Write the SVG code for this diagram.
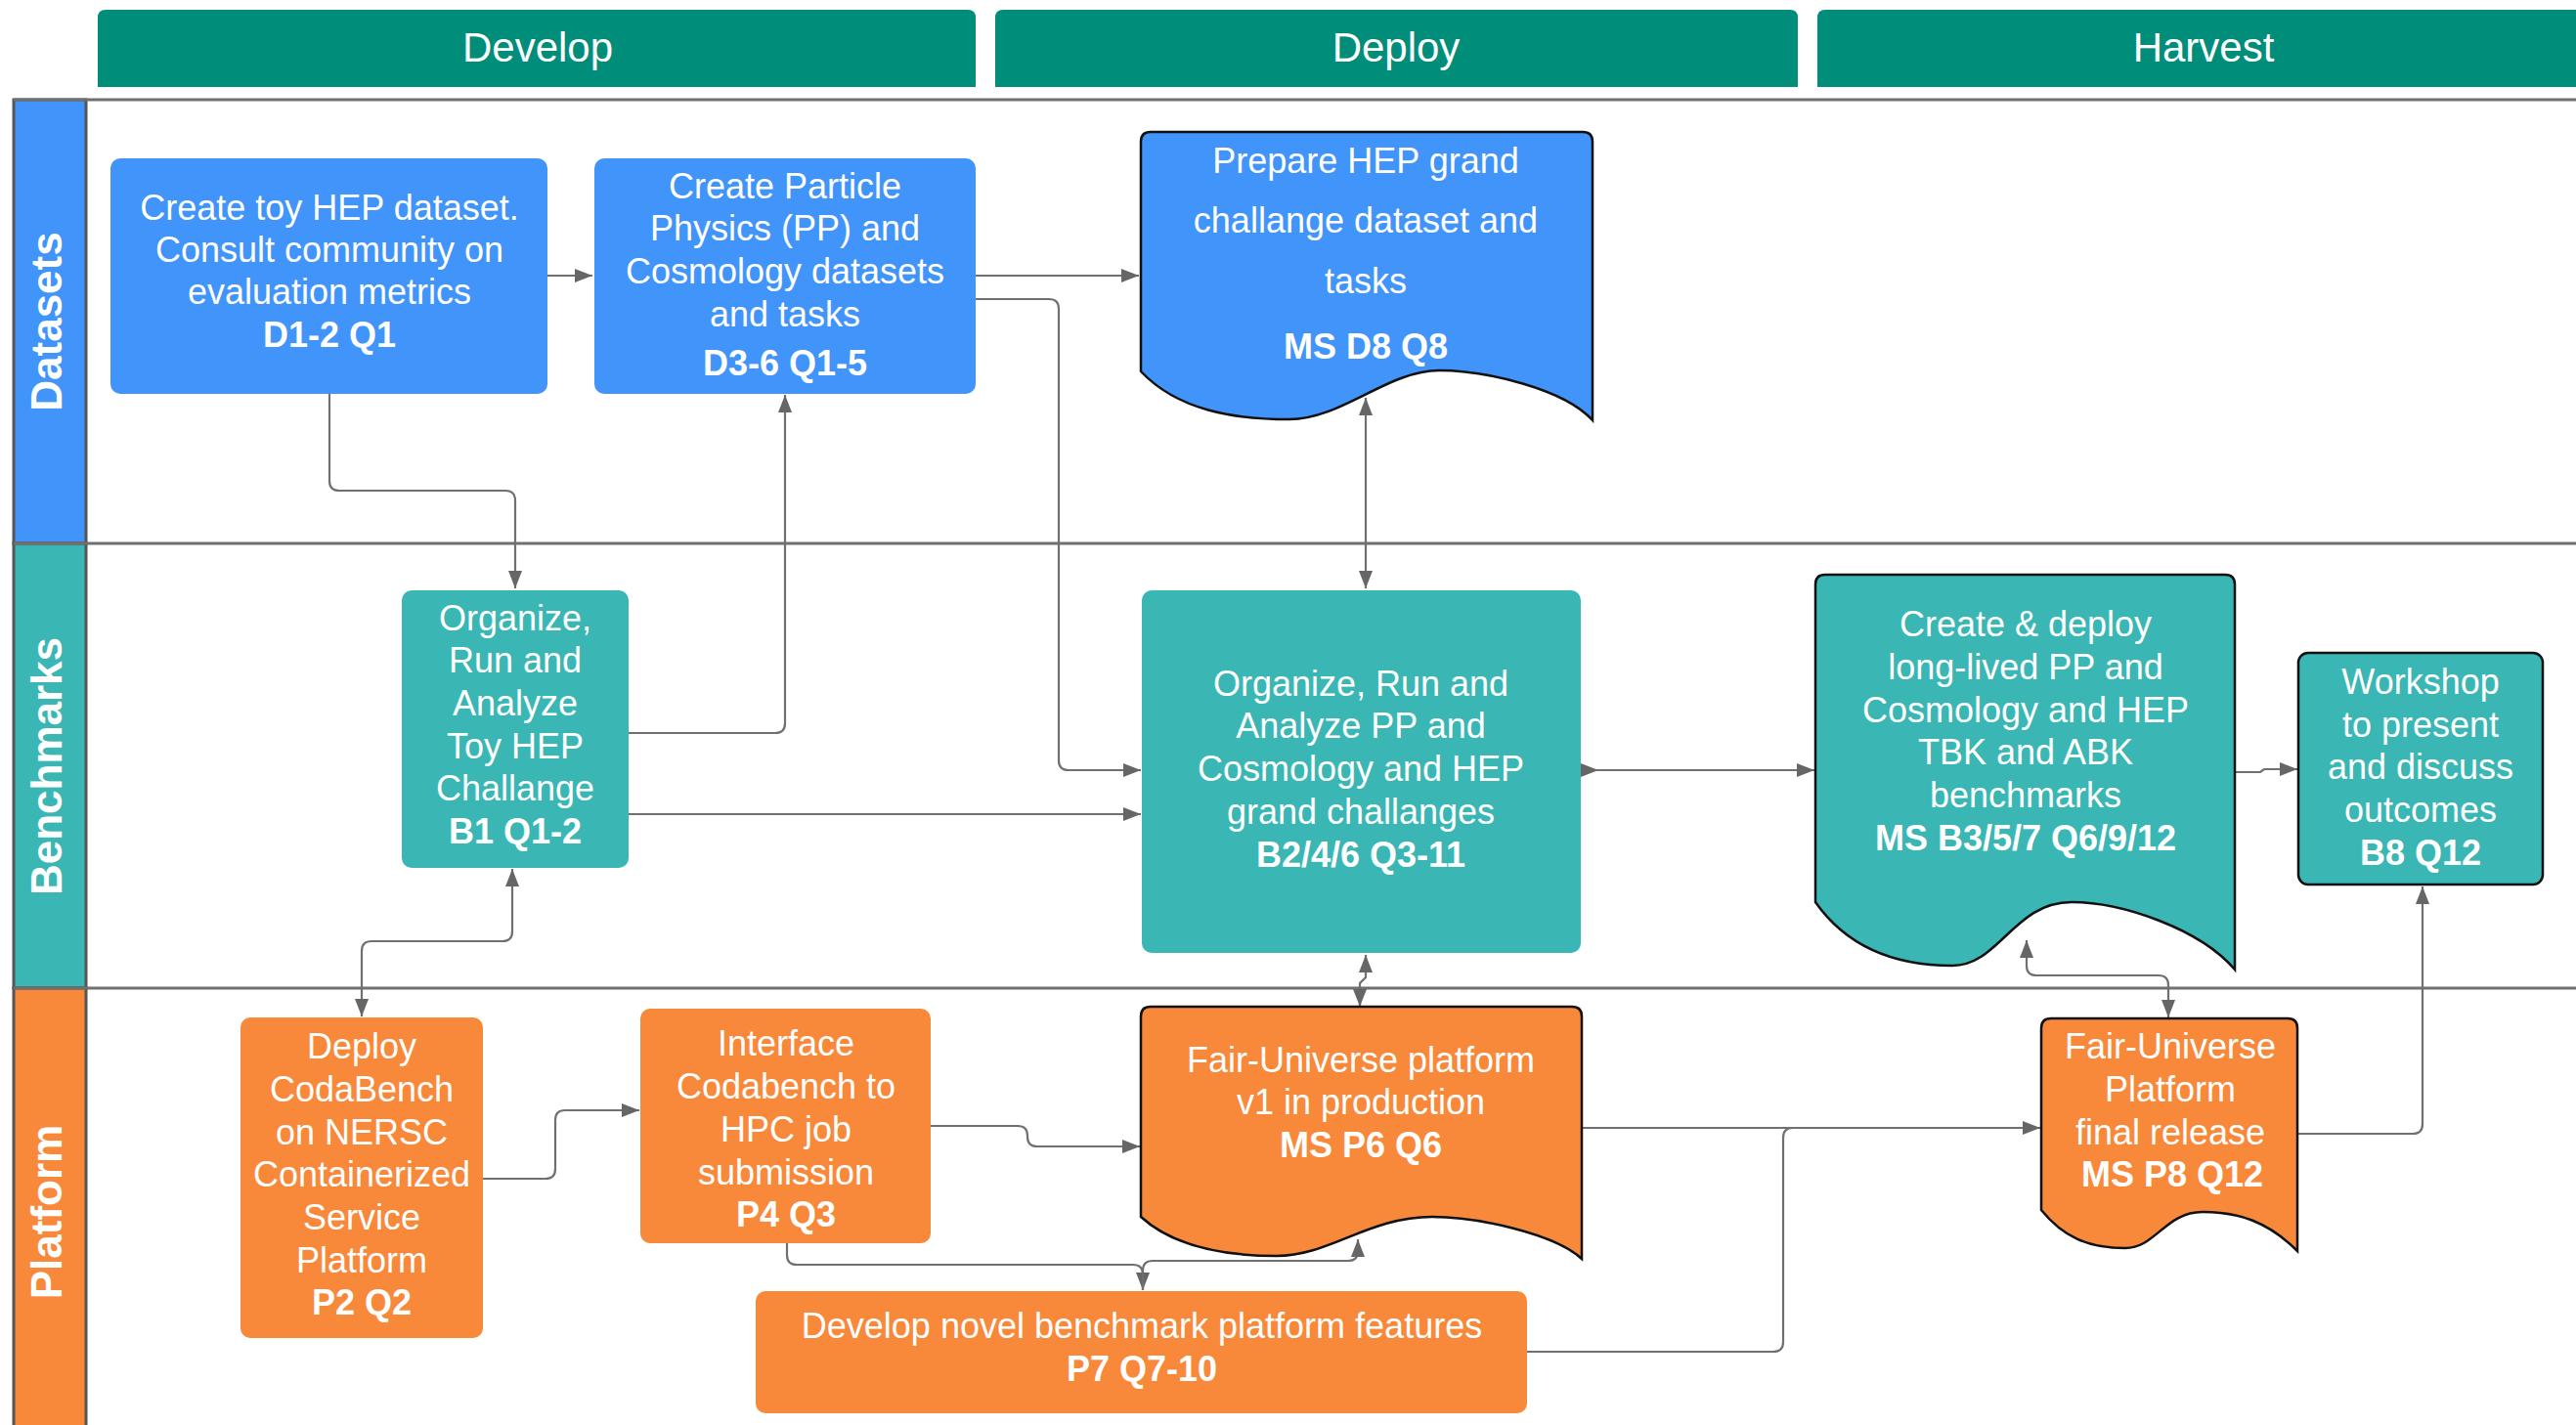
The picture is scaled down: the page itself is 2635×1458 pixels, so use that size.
<svg xmlns="http://www.w3.org/2000/svg" width="2635" height="1458" viewBox="0 0 2635 1458">
<defs>
<style>
.hdr{fill:#008d7a}
.hdrt{font-family:"Liberation Sans",Arial,sans-serif;font-size:42px;fill:#ffffff;text-anchor:middle}
.lane{stroke:#707070;stroke-width:3;fill:none}
.lbl{stroke:#555555;stroke-width:3}
.lblt{font-family:"Liberation Sans",Arial,sans-serif;font-size:44px;font-weight:bold;fill:#ffffff;text-anchor:middle}
.blue{fill:#4194f9}
.teal{fill:#3ab6b4}
.orng{fill:#f8883a}
.doc{stroke:#111111;stroke-width:2.5}
.t{font-family:"Liberation Sans",Arial,sans-serif;font-size:36px;fill:#ffffff;text-anchor:middle}
.b{font-weight:bold}
.c{stroke:#707070;stroke-width:2.2;fill:none}
</style>
<marker id="arr" markerUnits="userSpaceOnUse" markerWidth="18" markerHeight="14" refX="18" refY="7" orient="auto-start-reverse"><path d="M0,0 L18,7 L0,14 z" fill="#666666"/></marker>
<marker id="arrS" markerUnits="userSpaceOnUse" markerWidth="18" markerHeight="14" refX="0" refY="7" orient="auto"><path d="M0,0 L18,7 L0,14 z" fill="#666666"/></marker>
</defs>
<rect x="0" y="0" width="2635" height="1458" fill="#ffffff"/>

<g id="headers">
<path class="hdr" d="M100,89 V18 Q100,10 108,10 H990 Q998,10 998,18 V89 Z"/>
<text class="hdrt" x="550" y="63">Develop</text>
<path class="hdr" d="M1018,89 V18 Q1018,10 1026,10 H1831 Q1839,10 1839,18 V89 Z"/>
<text class="hdrt" x="1428" y="63">Deploy</text>
<path class="hdr" d="M1859,89 V18 Q1859,10 1867,10 H2635 V89 Z"/>
<text class="hdrt" x="2254" y="63">Harvest</text>
</g>

<g id="lanes">
<rect class="lbl" x="14" y="102" width="74" height="454" fill="#4194f9"/>
<rect class="lbl" x="14" y="556" width="74" height="455" fill="#3ab6b4"/>
<rect class="lbl" x="14" y="1011" width="74" height="460" fill="#f8883a"/>
<line class="lane" x1="14" y1="102" x2="2635" y2="102"/>
<line class="lane" x1="14" y1="556" x2="2635" y2="556"/>
<line class="lane" x1="14" y1="1011" x2="2635" y2="1011"/>
<text class="lblt" transform="translate(63,329) rotate(-90)" x="0" y="0">Datasets</text>
<text class="lblt" transform="translate(63,784) rotate(-90)" x="0" y="0">Benchmarks</text>
<text class="lblt" transform="translate(63,1240) rotate(-90)" x="0" y="0">Platform</text>
</g>

<g id="connectors">
<path class="c" d="M560,282 H606" marker-end="url(#arr)"/>
<path class="c" d="M998,282 H1165" marker-end="url(#arr)"/>
<path class="c" d="M337,403 V492 Q337,502 347,502 H517 Q527,502 527,512 V602" marker-end="url(#arr)"/>
<path class="c" d="M643,750 H793 Q803,750 803,740 V404" marker-end="url(#arr)"/>
<path class="c" d="M998,306 H1073 Q1083,306 1083,316 V778 Q1083,788 1093,788 H1167" marker-end="url(#arr)"/>
<path class="c" d="M643,833 H1167" marker-end="url(#arr)"/>
<path class="c" d="M1397,407 V602" marker-start="url(#arr)" marker-end="url(#arr)"/>
<path class="c" d="M1617,788 H1856" marker-start="url(#arrS)" marker-end="url(#arr)"/>
<path class="c" d="M2286,790 H2312 L2316,787 H2350" marker-end="url(#arr)"/>
<path class="c" d="M1397,977 V1000 L1391,1006 V1030" marker-start="url(#arr)" marker-end="url(#arr)"/>
<path class="c" d="M524,889 V953 Q524,963 514,963 H380 Q370,963 370,973 V1040" marker-start="url(#arr)" marker-end="url(#arr)"/>
<path class="c" d="M2073,962 V988 Q2073,998 2083,998 H2208 Q2218,998 2218,1008 V1041" marker-start="url(#arr)" marker-end="url(#arr)"/>
<path class="c" d="M494,1206 H558 Q568,1206 568,1196 V1146 Q568,1136 578,1136 H654" marker-end="url(#arr)"/>
<path class="c" d="M952,1152 H1041 Q1051,1152 1051,1162 V1163 Q1051,1173 1061,1173 H1166" marker-end="url(#arr)"/>
<path class="c" d="M805,1272 V1284 Q805,1294 815,1294 H1159 Q1169,1294 1169,1304 V1320" marker-end="url(#arr)"/>
<path class="c" d="M1169,1320 V1300 Q1169,1290 1179,1290 H1379 Q1389,1290 1389,1280 V1268" marker-end="url(#arr)"/>
<path class="c" d="M1618,1154 H2087" marker-end="url(#arr)"/>
<path class="c" d="M1562,1383 H1814 Q1824,1383 1824,1373 V1164 Q1824,1154 1834,1154 H1850"/>
<path class="c" d="M2350,1160 H2468 Q2478,1160 2478,1150 V907" marker-end="url(#arr)"/>
</g>

<g id="D1">
<rect class="blue" x="113" y="162" width="447" height="241" rx="10"/>
<text class="t" x="337" y="225">Create toy HEP dataset.</text>
<text class="t" x="337" y="268">Consult community on</text>
<text class="t" x="337" y="311">evaluation metrics</text>
<text class="t b" x="337" y="355">D1-2 Q1</text>
</g>

<g id="D3">
<rect class="blue" x="608" y="162" width="390" height="241" rx="10"/>
<text class="t" x="803" y="203">Create Particle</text>
<text class="t" x="803" y="246">Physics (PP) and</text>
<text class="t" x="803" y="290">Cosmology datasets</text>
<text class="t" x="803" y="334">and tasks</text>
<text class="t b" x="803" y="384">D3-6 Q1-5</text>
</g>

<g id="D8">
<path class="blue doc" d="M1167,380 V145 Q1167,135 1177,135 H1619 Q1629,135 1629,145 V430 C1600,398 1520,379 1472,379 C1420,379 1372,429 1319,429 C1262,429 1205,420 1167,380 Z"/>
<text class="t" x="1397" y="177">Prepare HEP grand</text>
<text class="t" x="1397" y="238">challange dataset and</text>
<text class="t" x="1397" y="300">tasks</text>
<text class="t b" x="1397" y="367">MS D8 Q8</text>
</g>

<g id="B1">
<rect class="teal" x="411" y="604" width="232" height="284" rx="10"/>
<text class="t" x="527" y="645">Organize,</text>
<text class="t" x="527" y="688">Run and</text>
<text class="t" x="527" y="732">Analyze</text>
<text class="t" x="527" y="776">Toy HEP</text>
<text class="t" x="527" y="819">Challange</text>
<text class="t b" x="527" y="863">B1 Q1-2</text>
</g>

<g id="B2">
<rect class="teal" x="1168" y="604" width="449" height="371" rx="10"/>
<text class="t" x="1392" y="712">Organize, Run and</text>
<text class="t" x="1392" y="755">Analyze PP and</text>
<text class="t" x="1392" y="799">Cosmology and HEP</text>
<text class="t" x="1392" y="843">grand challanges</text>
<text class="t b" x="1392" y="887">B2/4/6 Q3-11</text>
</g>

<g id="B3">
<path class="teal doc" d="M1857,923 V598 Q1857,588 1867,588 H2276 Q2286,588 2286,598 V992 C2250,950 2170,923 2119,923 C2060,923 2045,988 1997,988 C1940,988 1890,970 1857,923 Z"/>
<text class="t" x="2072" y="651">Create &amp; deploy</text>
<text class="t" x="2072" y="695">long-lived PP and</text>
<text class="t" x="2072" y="739">Cosmology and HEP</text>
<text class="t" x="2072" y="782">TBK and ABK</text>
<text class="t" x="2072" y="826">benchmarks</text>
<text class="t b" x="2072" y="870">MS B3/5/7 Q6/9/12</text>
</g>

<g id="B8">
<rect class="teal doc" x="2351" y="668" width="250" height="237" rx="10"/>
<text class="t" x="2476" y="710">Workshop</text>
<text class="t" x="2476" y="754">to present</text>
<text class="t" x="2476" y="797">and discuss</text>
<text class="t" x="2476" y="841">outcomes</text>
<text class="t b" x="2476" y="885">B8 Q12</text>
</g>

<g id="P2">
<rect class="orng" x="246" y="1041" width="248" height="328" rx="10"/>
<text class="t" x="370" y="1083">Deploy</text>
<text class="t" x="370" y="1127">CodaBench</text>
<text class="t" x="370" y="1171">on NERSC</text>
<text class="t" x="370" y="1214">Containerized</text>
<text class="t" x="370" y="1258">Service</text>
<text class="t" x="370" y="1302">Platform</text>
<text class="t b" x="370" y="1345">P2 Q2</text>
</g>

<g id="P4">
<rect class="orng" x="655" y="1032" width="297" height="240" rx="10"/>
<text class="t" x="804" y="1080">Interface</text>
<text class="t" x="804" y="1124">Codabench to</text>
<text class="t" x="804" y="1168">HPC job</text>
<text class="t" x="804" y="1212">submission</text>
<text class="t b" x="804" y="1255">P4 Q3</text>
</g>

<g id="P6">
<path class="orng doc" d="M1167,1245 V1040 Q1167,1030 1177,1030 H1608 Q1618,1030 1618,1040 V1288 C1590,1262 1510,1245 1465,1245 C1400,1245 1360,1285 1306,1285 C1250,1285 1200,1275 1167,1245 Z"/>
<text class="t" x="1392" y="1097">Fair-Universe platform</text>
<text class="t" x="1392" y="1140">v1 in production</text>
<text class="t b" x="1392" y="1184">MS P6 Q6</text>
</g>

<g id="P7">
<rect class="orng" x="773" y="1321" width="789" height="125" rx="10"/>
<text class="t" x="1168" y="1369">Develop novel benchmark platform features</text>
<text class="t b" x="1168" y="1413">P7 Q7-10</text>
</g>

<g id="P8">
<path class="orng doc" d="M2088,1238 V1052 Q2088,1042 2098,1042 H2340 Q2350,1042 2350,1052 V1280 C2320,1250 2290,1240 2253,1240 C2215,1240 2205,1277 2174,1277 C2135,1277 2110,1265 2088,1238 Z"/>
<text class="t" x="2220" y="1083">Fair-Universe</text>
<text class="t" x="2220" y="1127">Platform</text>
<text class="t" x="2220" y="1171">final release</text>
<text class="t b" x="2222" y="1214">MS P8 Q12</text>
</g>
</svg>
